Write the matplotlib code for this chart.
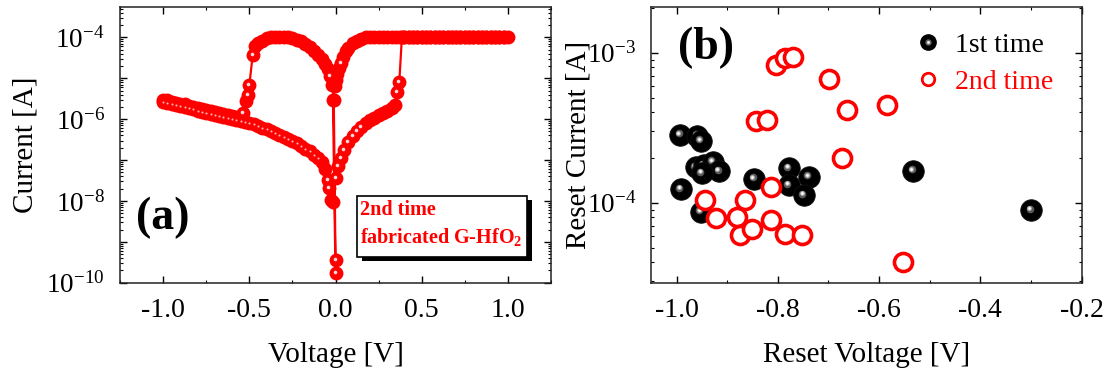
import matplotlib
matplotlib.use('Agg')
import matplotlib.pyplot as plt
import matplotlib.ticker as mticker
from matplotlib.transforms import offset_copy
from matplotlib.lines import Line2D
from matplotlib.legend_handler import HandlerTuple
from matplotlib.patches import Rectangle
import numpy as np

plt.rcParams['font.family'] = ['Liberation Serif', 'DejaVu Serif']
plt.rcParams['mathtext.fontset'] = 'custom'
plt.rcParams['mathtext.rm'] = 'Liberation Serif'
plt.rcParams['mathtext.it'] = 'Liberation Serif:italic'
plt.rcParams['mathtext.bf'] = 'Liberation Serif:bold'
plt.rcParams['axes.unicode_minus'] = False

# ---------------- panel (a): I-V sweep (voltage [V], log10 current [A]) ----------------
# reset sweep 0 -> -0.52 V (LRS), then HRS out to -1.0 V
sweep1_v = [0.000, -0.010, -0.020, -0.030, -0.045, -0.060, -0.080, -0.100, -0.125, -0.150,
            -0.175, -0.200, -0.225, -0.250, -0.275, -0.300, -0.325, -0.350, -0.375, -0.400,
            -0.425, -0.450, -0.465, -0.480, -0.500, -0.510, -0.520, -0.535,
            -0.550, -0.575, -0.600, -0.625, -0.650, -0.675, -0.700, -0.725, -0.750, -0.775,
            -0.800, -0.825, -0.850, -0.875, -0.900, -0.925, -0.950, -0.975, -1.000]
sweep1_logi = [-9.44, -5.53, -5.17, -4.95, -4.78, -4.64, -4.52, -4.43, -4.33, -4.24,
               -4.17, -4.10, -4.06, -4.02, -4.00, -3.99, -3.98, -3.98, -3.99, -4.02,
               -4.08, -4.15, -4.21, -4.43, -5.17, -5.41, -5.55, -5.85,
               -5.98, -5.95, -5.93, -5.90, -5.88, -5.86, -5.83, -5.80, -5.78, -5.75,
               -5.73, -5.70, -5.67, -5.64, -5.62, -5.60, -5.57, -5.54, -5.52]
# return -1.0 -> 0 V (HRS)
sweep2_v = [-1.000, -0.975, -0.950, -0.925, -0.900, -0.875, -0.850, -0.825, -0.800, -0.775,
            -0.750, -0.725, -0.700, -0.675, -0.650, -0.625, -0.600, -0.575, -0.550, -0.525,
            -0.500, -0.475, -0.450, -0.425, -0.400, -0.375, -0.350, -0.325, -0.300, -0.275,
            -0.250, -0.225, -0.200, -0.175, -0.150, -0.125, -0.100, -0.080, -0.060, -0.045,
            -0.035, -0.028, -0.016]
sweep2_logi = [-5.58, -5.61, -5.63, -5.66, -5.68, -5.71, -5.73, -5.76, -5.79, -5.82,
               -5.84, -5.87, -5.89, -5.92, -5.94, -5.97, -5.99, -6.02, -6.04, -6.07,
               -6.09, -6.13, -6.17, -6.21, -6.25, -6.30, -6.34, -6.39, -6.43, -6.48,
               -6.53, -6.59, -6.65, -6.72, -6.79, -6.87, -6.95, -7.06, -7.21, -7.49,
               -7.69, -7.98, -8.02]
# set sweep 0 -> +1.0 V (HRS, set, compliance)
sweep3_v = [0.000, 0.015, 0.030, 0.050, 0.075, 0.100, 0.125, 0.150, 0.175, 0.200,
            0.225, 0.250, 0.275, 0.300, 0.325, 0.345, 0.355, 0.370, 0.385,
            0.400, 0.425, 0.450, 0.475, 0.500, 0.525, 0.550, 0.575, 0.600, 0.625,
            0.650, 0.675, 0.700, 0.725, 0.750, 0.775, 0.800, 0.825, 0.850, 0.875,
            0.900, 0.925, 0.950, 0.975, 1.000]
sweep3_logi = [-7.45, -7.15, -6.95, -6.75, -6.55, -6.40, -6.28, -6.18, -6.09, -6.02,
               -5.96, -5.90, -5.84, -5.79, -5.73, -5.66, -5.33, -5.09, -4.00,
               -4.00, -4.00, -4.00, -4.00, -4.00, -4.00, -4.00, -4.00, -4.00, -4.00,
               -4.00, -4.00, -4.00, -4.00, -4.00, -4.00, -4.00, -4.00, -4.00, -4.00,
               -4.00, -4.00, -4.00, -4.00, -4.00]
# return +1.0 -> 0 V (LRS)
sweep4_v = [0.975, 0.950, 0.925, 0.900, 0.875, 0.850, 0.825, 0.800, 0.775, 0.750,
            0.725, 0.700, 0.675, 0.650, 0.625, 0.600, 0.575, 0.550, 0.525, 0.500,
            0.475, 0.450, 0.425, 0.400, 0.375, 0.350, 0.325, 0.300, 0.275, 0.250,
            0.225, 0.200, 0.175, 0.150, 0.125, 0.100, 0.075, 0.060, 0.045, 0.030,
            0.020, 0.010, 0.003, -0.005, -0.015, 0.000]
sweep4_logi = [-4.00, -4.00, -4.00, -4.00, -4.00, -4.00, -4.00, -4.00, -4.00, -4.00,
               -4.00, -4.00, -4.00, -4.00, -4.00, -4.00, -4.00, -4.00, -4.00, -4.00,
               -4.00, -4.00, -4.00, -4.00, -4.00, -4.00, -4.00, -4.00, -4.00, -4.00,
               -4.00, -4.00, -4.00, -4.03, -4.08, -4.15, -4.26, -4.34, -4.47, -4.62,
               -4.76, -4.90, -5.05, -5.20, -5.53, -9.77]

# ---------------- panel (b): reset voltage / reset current ----------------
first_v = [-0.993, -0.959, -0.952, -0.962, -0.946, -0.929, -0.916, -0.950, -0.992,
           -0.952, -0.847, -0.778, -0.739, -0.778, -0.749, -0.533, -0.300]
first_i = [2.85e-4, 2.80e-4, 2.60e-4, 1.72e-4, 1.78e-4, 1.87e-4, 1.62e-4, 1.57e-4, 1.23e-4,
           8.7e-5, 1.45e-4, 1.70e-4, 1.49e-4, 1.31e-4, 1.12e-4, 1.63e-4, 8.9e-5]
second_v = [-0.803, -0.785, -0.771, -0.699, -0.584, -0.663, -0.844, -0.821, -0.673, -0.814,
            -0.943, -0.864, -0.923, -0.880, -0.814, -0.874, -0.851, -0.785, -0.752, -0.553]
second_i = [8.3e-4, 9.2e-4, 9.4e-4, 6.7e-4, 4.5e-4, 4.15e-4, 3.5e-4, 3.55e-4, 1.98e-4, 1.28e-4,
            1.05e-4, 1.05e-4, 7.9e-5, 8.0e-5, 7.7e-5, 6.1e-5, 6.7e-5, 6.2e-5, 6.1e-5, 4.05e-5]

RED = '#ff0000'
DPI = 100

fig = plt.figure(figsize=(11.08, 3.74), dpi=DPI)
axa = fig.add_axes([0.1083, 0.2441, 0.389, 0.738])
axb = fig.add_axes([0.5878, 0.2441, 0.3884, 0.738])

# ---- panel (a)
axa.set_yscale('log')
axa.set_xlim(-1.25, 1.25)
axa.set_ylim(1e-10, 10 ** -3.25)
V = np.array(sweep1_v + sweep2_v + sweep3_v + sweep4_v)
I = 10.0 ** np.array(sweep1_logi + sweep2_logi + sweep3_logi + sweep4_logi)
MS_A = 10.0
axa.plot(V, I, '-', color=RED, lw=1.6, zorder=2)
axa.plot(V, I, 'o', ls='none', ms=MS_A, mfc=RED, mec='none', zorder=3)
# faint specks of overlapping highlights along the HRS return band
V2 = np.array(sweep2_v)
I2 = 10.0 ** np.array(sweep2_logi)
band = V2 <= -0.1
axa.plot(V2[band], I2[band], 'o', ls='none', ms=1.5, mfc='#ffb4b4', mec='none', zorder=3.4)
# specular highlight on markers that stand apart from their neighbours
fig.canvas.draw()
pix = axa.transData.transform(np.column_stack([V, I]))
hpos = pix + np.array([-1.0, 1.0])
rad = MS_A * DPI / 72 / 2
vis = np.zeros(len(V), dtype=bool)
for k in range(len(V)):
    d = np.hypot(pix[:, 0] - hpos[k, 0], pix[:, 1] - hpos[k, 1])
    d[k] = 1e9
    vis[k] = not np.any(d < rad - 1.0)
hl_a = offset_copy(axa.transData, fig=fig, x=-1, y=1, units='dots')
axa.plot(V[vis], I[vis], 'o', ls='none', ms=2.6, mfc='#ffd8d8', mec='none', zorder=3.5,
         transform=hl_a)

axa.xaxis.set_major_locator(mticker.MultipleLocator(0.5))
axa.xaxis.set_minor_locator(mticker.MultipleLocator(0.25))
axa.xaxis.set_major_formatter(mticker.FormatStrFormatter('%.1f'))
axa.yaxis.set_major_locator(mticker.LogLocator(base=10, numticks=30))
axa.yaxis.set_minor_locator(mticker.LogLocator(base=10, subs=np.arange(2, 10), numticks=30))
axa.yaxis.set_minor_formatter(mticker.NullFormatter())


def even_fmt(y, pos):
    e = int(round(np.log10(y)))
    return r'$10^{%d}$' % e if e % 2 == 0 else ''


axa.yaxis.set_major_formatter(mticker.FuncFormatter(even_fmt))
axa.set_xlabel('Voltage [V]', fontsize=21)
axa.set_ylabel('Current [A]', fontsize=21)

rx0, rx1, ry0, ry1 = 0.550, 0.944, 0.093, 0.314
axa.add_patch(Rectangle((rx0 + 0.012, ry0 - 0.016), rx1 - rx0, ry1 - ry0, transform=axa.transAxes,
                        facecolor='black', edgecolor='none', zorder=5))
axa.add_patch(Rectangle((rx0, ry0), rx1 - rx0, ry1 - ry0, transform=axa.transAxes,
                        facecolor='white', edgecolor='black', lw=1.2, zorder=6))
axa.text(0.557, 0.262, '2nd time', color=RED, fontsize=14.5, fontweight='bold',
         ha='left', va='center', transform=axa.transAxes, zorder=7)
axa.text(0.557, 0.165, r'fabricated G-HfO$_{\mathbf{2}}$', color=RED, fontsize=14.5,
         fontweight='bold', ha='left', va='center', transform=axa.transAxes, zorder=7)
axa.text(0.10, 0.234, '(a)', fontsize=33, fontweight='bold', ha='center', va='center',
         transform=axa.transAxes, zorder=7)

# ---- panel (b)
axb.set_yscale('log')
axb.set_xlim(-1.05, -0.2)
axb.set_ylim(2.93e-5, 2.03e-3)
hl1 = offset_copy(axb.transData, fig=fig, x=-1.5, y=1.5, units='dots')
hl2 = offset_copy(axb.transData, fig=fig, x=-2, y=2, units='dots')
for v, i in zip(first_v, first_i):
    axb.plot([v], [i], 'o', ms=15.5, mfc='black', mec='#111111', mew=0.6, zorder=3)
    axb.plot([v], [i], 'o', ms=5.5, mfc='#5a5a5a', mec='none', zorder=3, transform=hl1)
    axb.plot([v], [i], 'o', ms=3.6, mfc='#a8a8a8', mec='none', zorder=3, transform=hl2)
    axb.plot([v], [i], 'o', ms=2.0, mfc='white', mec='none', zorder=3, transform=hl2)
axb.plot(second_v, second_i, 'o', ls='none', ms=13, mfc='white', mec=RED, mew=2.6, zorder=4)

axb.xaxis.set_major_locator(mticker.MultipleLocator(0.2))
axb.xaxis.set_minor_locator(mticker.MultipleLocator(0.1))
axb.xaxis.set_major_formatter(mticker.FormatStrFormatter('%.1f'))
axb.yaxis.set_major_locator(mticker.LogLocator(base=10, numticks=30))
axb.yaxis.set_minor_locator(mticker.LogLocator(base=10, subs=np.arange(2, 10), numticks=30))
axb.yaxis.set_minor_formatter(mticker.NullFormatter())
axb.yaxis.set_major_formatter(mticker.FuncFormatter(lambda y, p: r'$10^{%d}$' % int(round(np.log10(y)))))
axb.set_xlabel('Reset Voltage [V]', fontsize=21)
axb.set_ylabel('Reset Current [A]', fontsize=21)
axb.text(0.128, 0.849, '(b)', fontsize=33, fontweight='bold', ha='center', va='center',
         transform=axb.transAxes, zorder=7)

h1 = (Line2D([], [], marker='o', ls='none', ms=11, mfc='black', mec='black'),
      Line2D([], [], marker='o', ls='none', ms=4.5, mfc='#6a6a6a', mec='none'),
      Line2D([], [], marker='o', ls='none', ms=2.0, mfc='white', mec='none'))
h2 = Line2D([], [], marker='o', ls='none', ms=9, mfc='white', mec=RED, mew=2.0)
axb.legend([h1, h2], ['1st time', '2nd time'], handler_map={tuple: HandlerTuple(ndivide=1)},
           loc='upper left', bbox_to_anchor=(0.61, 0.908), frameon=False, fontsize=20,
           handlelength=1.0, handletextpad=0.5, labelspacing=0.44, borderpad=0,
           borderaxespad=0, labelcolor=['black', RED])

for ax in (axa, axb):
    ax.tick_params(which='both', direction='in', top=True, right=True)
    ax.tick_params(axis='x', labelsize=20, pad=11)
    ax.tick_params(axis='y', labelsize=19.5, pad=11)
    ax.tick_params(which='major', length=5, width=1)
    ax.tick_params(which='minor', length=2.5, width=0.8)
    for s in ax.spines.values():
        s.set_linewidth(1.1)
        s.set_color('#222222')

axa.yaxis.set_label_coords(-0.19, 0.5)
axb.yaxis.set_label_coords(-0.14, 0.5)
axa.xaxis.set_label_coords(0.5, -0.215)
axb.xaxis.set_label_coords(0.5, -0.215)

fig.savefig('out.png', dpi=DPI)
